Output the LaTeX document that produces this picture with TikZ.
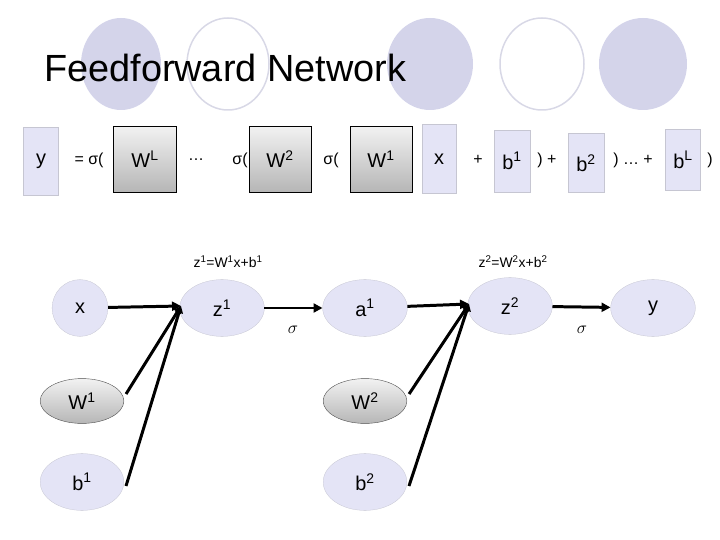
\documentclass[tikz,border=0pt]{standalone}
\usepackage{fontspec}
\setmainfont{Liberation Sans}
\usetikzlibrary{arrows.meta,shapes.geometric}
\definecolor{lav}{HTML}{E4E4F6}
\definecolor{deco}{HTML}{D4D4EA}
\definecolor{decol}{HTML}{D8D8E6}
\definecolor{gtop}{HTML}{F2F2F2}
\definecolor{gbot}{HTML}{B6B6B6}
\begin{document}
\begin{tikzpicture}[x=1bp,y=-1bp,
  lbox/.style={fill=lav,draw=lav!70!gray,line width=0.3pt,inner sep=0pt,font=\fontsize{20}{20}\selectfont},
  gbox/.style={top color=gtop,bottom color=gbot,draw=black,line width=0.6pt,inner sep=0pt,font=\fontsize{20}{20}\selectfont},
  txt/.style={inner sep=0pt,font=\fontsize{16}{16}\selectfont},
  nd/.style={ellipse,fill=lav,draw=lav!70!gray,line width=0.3pt,inner sep=0pt,font=\fontsize{20}{20}\selectfont},
  gnd/.style={ellipse,top color=gtop,bottom color=gbot,draw=black!70,line width=0.4pt,inner sep=0pt,font=\fontsize{20}{20}\selectfont},
  ar/.style={line width=3pt,-{Triangle[length=9pt,width=9pt]}},
  ln/.style={line width=3pt,-{Triangle[length=7pt,width=8pt]}}]
\useasboundingbox (0,0) rectangle (720,540);
% decorative circles
\fill[deco] (121,64) ellipse (40 and 46);
\draw[decol,line width=1.5pt] (228,64) ellipse (41 and 46);
\fill[deco] (430,64) ellipse (43 and 46);
\draw[decol,line width=1.5pt] (542,64) ellipse (42 and 46);
\fill[deco] (643,64) ellipse (44 and 46);
\node[anchor=west,inner sep=0pt,font=\fontsize{38}{38}\selectfont] (title) at (44,68) {Feedforward Network};
% equation row
\node[lbox,minimum width=35,minimum height=68] (ey) at (41,161) {y};
\node[txt] (eq) at (89,160) {= σ(};
\node[gbox,minimum width=63,minimum height=66] (ewl) at (145,159) {W\textsuperscript{L}};
\node[txt] (d1) at (196,160) {\ldots};
\node[txt] (s2) at (240,160) {σ(};
\node[gbox,minimum width=62,minimum height=66] (ew2) at (280,159) {W\textsuperscript{2}};
\node[txt] (s1) at (331,160) {σ(};
\node[gbox,minimum width=62,minimum height=66] (ew1) at (381,159) {W\textsuperscript{1}};
\node[lbox,minimum width=34,minimum height=69] (ex) at (439,159) {x};
\node[txt] (p1) at (478,160) {+};
\node[lbox,minimum width=36,minimum height=62] (eb1) at (512,161) {b\textsuperscript{1}};
\node[txt] (p2) at (547,160) {) +};
\node[lbox,minimum width=36,minimum height=59] (eb2) at (586,163) {b\textsuperscript{2}};
\node[txt] (p3) at (633,160) {) \ldots\ +};
\node[lbox,minimum width=35,minimum height=61] (ebl) at (683,160) {b\textsuperscript{L}};
\node[txt] (p4) at (710,160) {)};
% graph
\node[nd,minimum width=56,minimum height=57] (x) at (80,308) {x};
\node[nd,minimum width=85,minimum height=57] (z1) at (222,308) {z\textsuperscript{1}};
\node[nd,minimum width=85,minimum height=57] (a1) at (365,308) {a\textsuperscript{1}};
\node[nd,minimum width=85,minimum height=57] (z2) at (510,306) {z\textsuperscript{2}};
\node[nd,minimum width=85,minimum height=57] (y) at (653,308) {y};
\node[gnd,minimum width=84,minimum height=45] (w1) at (82,401) {W\textsuperscript{1}};
\node[nd,minimum width=84,minimum height=57] (b1) at (82,482) {b\textsuperscript{1}};
\node[gnd,minimum width=84,minimum height=45] (w2) at (365,401) {W\textsuperscript{2}};
\node[nd,minimum width=84,minimum height=57] (b2) at (365,482) {b\textsuperscript{2}};
\node[txt,font=\fontsize{14}{14}\selectfont] (l1) at (228,262) {z\textsuperscript{1}=W\textsuperscript{1}x+b\textsuperscript{1}};
\node[txt,font=\fontsize{14}{14}\selectfont] (l2) at (513,262) {z\textsuperscript{2}=W\textsuperscript{2}x+b\textsuperscript{2}};
\node[inner sep=0pt,font=\fontsize{18}{18}\selectfont] (sg1) at (293,330) {$\sigma$};
\node[inner sep=0pt,font=\fontsize{18}{18}\selectfont] (sg2) at (582,330) {$\sigma$};
\coordinate (t1) at (181,306);
\coordinate (t2) at (469,304);
\draw[ar] (x) -- (t1);
\draw[ln] (w1.east) ++(2,-7) -- (t1);
\draw[ln] (b1.east) ++(2,4) -- (t1);
\draw[ar] (z1) -- (a1);
\draw[ar] (a1) -- (t2);
\draw[ln] (w2.east) ++(2,-7) -- (t2);
\draw[ln] (b2.east) ++(2,4) -- (t2);
\draw[ar] (z2) -- (y);
\end{tikzpicture}
\end{document}
